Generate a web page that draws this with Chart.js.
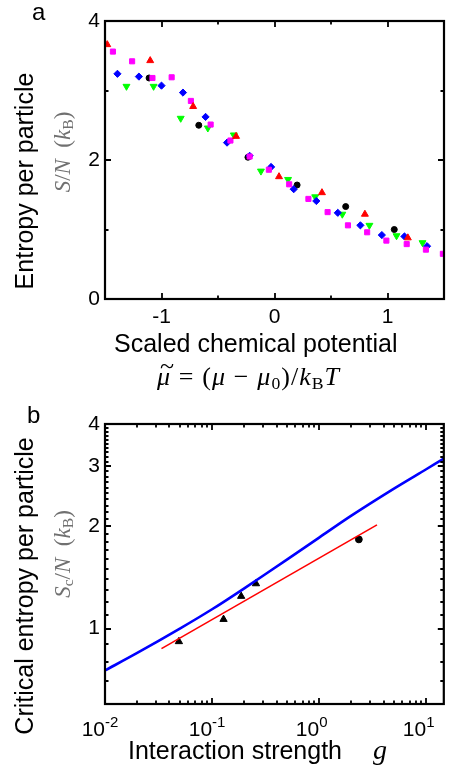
<!DOCTYPE html>
<html>
<head>
<meta charset="utf-8">
<script src="https://cdn.jsdelivr.net/npm/chart.js@4.4.0/dist/chart.umd.min.js"></script>
<style>
    html, body { margin: 0; padding: 0; background: #fff; }
    body { width: 449px; height: 765px; position: relative; overflow: hidden; font-family: "Liberation Sans", Arial, sans-serif; }
    canvas { position: absolute; left: 0; }
    .lbl { position: absolute; white-space: nowrap; color: #000; line-height: 1; }
    .rot { transform: translate(-50%, -50%) rotate(-90deg); }
    .math { font-family: "Liberation Serif", "DejaVu Serif", serif; }
    .math i { font-style: italic; }
    .math sub { font-size: 68%; vertical-align: -0.25em; line-height: 0; font-style: normal; }
    .gray { color: #707070; }
    .sp { display: inline-block; width: 0.3em; }
    .tilde { position: relative; display: inline-block; }
    .tilde b { position: absolute; left: 0.12em; top: -0.42em; font-weight: normal; font-style: normal; }
</style>
</head>
<body>
<canvas id="chartA" width="449" height="345" style="top:0px"></canvas>
<canvas id="chartB" width="449" height="370" style="top:395px"></canvas>

<div class="lbl" style="left:32px; top:0px; font-size:24px;">a</div>
<div class="lbl rot" style="left:24px; top:181px; font-size:25px;">Entropy per particle</div>
<div class="lbl rot math gray" style="left:62px; top:152px; font-size:23px;"><i>S</i>/<i>N</i>&nbsp;&nbsp;(<i>k</i><sub>B</sub>)</div>
<div class="lbl" style="left:114px; top:331px; font-size:25px;">Scaled chemical potential</div>
<div class="lbl math" style="left:157px; top:364px; font-size:26px; letter-spacing:1px;"><span class="tilde"><i>μ</i><b>~</b></span><span class="sp"></span>=<span class="sp"></span>(<i>μ</i><span class="sp"></span>−<span class="sp"></span><i>μ</i><sub>0</sub>)/<i>k</i><sub>B</sub><i>T</i></div>

<div class="lbl" style="left:27px; top:403px; font-size:24px;">b</div>
<div class="lbl rot" style="left:24px; top:586px; font-size:25px;">Critical entropy per particle</div>
<div class="lbl rot math gray" style="left:62px; top:554px; font-size:23px;"><i>S</i><sub>c</sub>/<i>N</i>&nbsp;&nbsp;(<i>k</i><sub>B</sub>)</div>
<div class="lbl" style="left:128px; top:736px; font-size:25px;">Interaction strength<span class="math" style="margin-left:31px; font-size:28px;"><i>g</i></span></div>

<script>
// ---- panel a : entropy per particle vs scaled chemical potential ----
const redMu = [-1.48, -1.10, -0.72, -0.34, 0.04, 0.42, 0.80, 1.18];
const redS = [3.66, 3.43, 2.77, 2.34, 1.76, 1.53, 1.22, 0.88];

const magentaMu = [-1.43, -1.26, -1.08, -0.91, -0.74, -0.565, -0.39, -0.22, -0.05, 0.13, 0.30, 0.47, 0.65, 0.82, 0.99, 1.17, 1.34, 1.49];
const magentaS = [3.56, 3.42, 3.18, 3.19, 2.85, 2.51, 2.28, 2.05, 1.86, 1.65, 1.44, 1.25, 1.06, 0.96, 0.84, 0.79, 0.71, 0.65];

const blueMu = [-1.39, -1.20, -1.00, -0.81, -0.61, -0.42, -0.22, -0.03, 0.17, 0.37, 0.56, 0.76, 0.95, 1.15, 1.35];
const blueS = [3.24, 3.20, 3.07, 2.97, 2.62, 2.25, 2.06, 1.90, 1.58, 1.41, 1.24, 1.06, 0.92, 0.90, 0.76];

const greenMu = [-1.31, -1.07, -0.83, -0.59, -0.36, -0.12, 0.12, 0.36, 0.60, 0.84, 1.08, 1.31];
const greenS = [3.06, 3.06, 2.60, 2.46, 2.36, 1.84, 1.72, 1.47, 1.22, 1.06, 0.91, 0.81];

const blackMu = [-1.11, -0.67, -0.235, 0.20, 0.63, 1.06];
const blackS = [3.18, 2.50, 2.04, 1.64, 1.33, 1.00];

const xTicksA = [-1, -0.5, 0, 0.5, 1];
const xLabelsA = [-1, 0, 1];
const yTicksA = [0, 1, 2, 3, 4];
const yLabelsA = [0, 2, 4];

// ---- panel b : critical entropy vs interaction strength ----
const gTheory = [0.01, 0.02, 0.05, 0.1, 0.2, 0.5, 1, 2, 5, 10, 14.6];
const sTheory = [0.753, 0.848, 1.000, 1.140, 1.314, 1.596, 1.853, 2.150, 2.582, 2.944, 3.165];

const gFit = [0.0337, 3.47];
const sFit = [0.873, 2.02];

const gTriangles = [0.049, 0.128, 0.187, 0.257];
const sTriangles = [0.916, 1.065, 1.245, 1.356];

const gDot = [2.35];
const sDot = [1.83];

const xDecadesB = [0.01, 0.1, 1, 10];
const xExponentsB = ['-2', '-1', '0', '1'];
const yLabelsB = [1, 2, 3, 4];

Chart.defaults.font.family = '"Liberation Sans", Arial, sans-serif';
Chart.defaults.color = '#000';

function pts(xs, ys) {
    return xs.map((x, i) => ({ x: x, y: ys[i] }));
}

function near(list, v) {
    return list.findIndex(l => Math.abs(l - v) < 1e-6 * Math.max(1, Math.abs(l)));
}

// ticks pointing inward on all four sides + frame
function cadre(xTicks, xMajor, yTicks, yMajor) {
    return {
        id: 'cadre',
        afterDraw(chart) {
            const ctx = chart.ctx;
            const a = chart.chartArea;
            const sx = chart.scales.x;
            const sy = chart.scales.y;
            ctx.save();
            ctx.strokeStyle = '#000';
            ctx.lineWidth = 1.8;
            xTicks.forEach(v => {
                const p = Math.round(sx.getPixelForValue(v));
                const len = near(xMajor, v) >= 0 ? 6 : 3.5;
                ctx.beginPath();
                ctx.moveTo(p, a.bottom); ctx.lineTo(p, a.bottom - len);
                ctx.moveTo(p, a.top); ctx.lineTo(p, a.top + len);
                ctx.stroke();
            });
            yTicks.forEach(v => {
                const p = Math.round(sy.getPixelForValue(v));
                const len = near(yMajor, v) >= 0 ? 6 : 3.5;
                ctx.beginPath();
                ctx.moveTo(a.left, p); ctx.lineTo(a.left + len, p);
                ctx.moveTo(a.right, p); ctx.lineTo(a.right - len, p);
                ctx.stroke();
            });
            ctx.lineWidth = 2.2;
            ctx.strokeRect(a.left, a.top, a.right - a.left, a.bottom - a.top);
            ctx.restore();
        }
    };
}

// 10^n labels under the log axis
const puissances = {
    id: 'puissances',
    afterDraw(chart) {
        const ctx = chart.ctx;
        const sx = chart.scales.x;
        const y0 = chart.chartArea.bottom + 32;
        ctx.save();
        ctx.fillStyle = '#000';
        ctx.textBaseline = 'alphabetic';
        xDecadesB.forEach((d, i) => {
            const p = sx.getPixelForValue(d);
            ctx.font = '21px "Liberation Sans", Arial, sans-serif';
            ctx.textAlign = 'right';
            ctx.fillText('10', p, y0);
            ctx.font = '15px "Liberation Sans", Arial, sans-serif';
            ctx.textAlign = 'left';
            ctx.fillText(xExponentsB[i], p, y0 - 9);
        });
        ctx.restore();
    }
};

function axeX(extra, height, padding) {
    return Object.assign({
        grid: { display: false, drawTicks: false },
        border: { display: false },
        afterFit: s => { s.height = height; s.paddingLeft = 0; s.paddingRight = 0; },
        ticks: { font: { size: 21 }, padding: padding, autoSkip: false, maxRotation: 0, minRotation: 0 }
    }, extra);
}

function axeY(extra) {
    return Object.assign({
        grid: { display: false, drawTicks: false },
        border: { display: false },
        afterFit: s => { s.width = 105; },
        ticks: { font: { size: 21 }, padding: 5, autoSkip: false }
    }, extra);
}

function nuage(label, xs, ys, color, style, radius, rotation) {
    return {
        label: label,
        data: pts(xs, ys),
        pointStyle: style,
        pointRadius: radius,
        pointRotation: rotation || 0,
        backgroundColor: color,
        borderColor: color,
        borderWidth: 1
    };
}

// panel a
new Chart(document.getElementById('chartA'), {
    type: 'scatter',
    data: {
        datasets: [
            nuage('red', redMu, redS, '#ff0000', 'triangle', 4),
            nuage('magenta', magentaMu, magentaS, '#ff00ff', 'rect', 3.6),
            nuage('blue', blueMu, blueS, '#0000ff', 'rectRot', 3.6),
            nuage('green', greenMu, greenS, '#00ff00', 'triangle', 4, 180),
            nuage('black', blackMu, blackS, '#000000', 'circle', 3)
        ]
    },
    options: {
        responsive: false,
        animation: false,
        devicePixelRatio: 1,
        layout: { padding: { top: 21, right: 1, left: 0, bottom: 0 } },
        plugins: { legend: { display: false }, tooltip: { enabled: false } },
        scales: {
            x: axeX({
                type: 'linear', min: -1.5, max: 1.5,
                afterBuildTicks: s => { s.ticks = xTicksA.map(v => ({ value: v })); }
            }, 46, 6),
            y: axeY({
                type: 'linear', min: 0, max: 4,
                afterBuildTicks: s => { s.ticks = yTicksA.map(v => ({ value: v })); }
            })
        }
    },
    plugins: [cadre(xTicksA, xLabelsA, yTicksA, yLabelsA)]
});
Chart.getChart('chartA').options.scales.x.ticks.callback = v => near(xLabelsA, v) >= 0 ? String(v) : '';
Chart.getChart('chartA').options.scales.y.ticks.callback = v => near(yLabelsA, v) >= 0 ? String(v) : '';
Chart.getChart('chartA').update();

// log ticks for panel b
const xTicksB = [];
xDecadesB.forEach(d => {
    for (let m = 1; m <= 9; m++) {
        const v = Math.round(m * d * 1000) / 1000;
        if (v <= 14.6) xTicksB.push(v);
    }
});
const yTicksB = [];
for (let k = 6; k <= 40; k++) yTicksB.push(k / 10);

new Chart(document.getElementById('chartB'), {
    type: 'scatter',
    data: {
        datasets: [
            {
                label: 'theory',
                data: pts(gTheory, sTheory),
                showLine: true,
                borderColor: '#0000ff',
                borderWidth: 2.6,
                pointRadius: 0,
                tension: 0.3
            },
            {
                label: 'fit',
                data: pts(gFit, sFit),
                showLine: true,
                borderColor: '#ff0000',
                borderWidth: 1.6,
                pointRadius: 0
            },
            nuage('triangles', gTriangles, sTriangles, '#000000', 'triangle', 4.2),
            nuage('dot', gDot, sDot, '#000000', 'circle', 3.4)
        ]
    },
    options: {
        responsive: false,
        animation: false,
        devicePixelRatio: 1,
        layout: { padding: { top: 29, right: 1, left: 0, bottom: 0 } },
        plugins: { legend: { display: false }, tooltip: { enabled: false } },
        scales: {
            x: axeX({
                type: 'logarithmic', min: 0.01, max: 14.6,
                afterBuildTicks: s => { s.ticks = xTicksB.map(v => ({ value: v })); }
            }, 61, 8),
            y: axeY({
                type: 'logarithmic', min: 0.6, max: 4,
                afterBuildTicks: s => { s.ticks = yTicksB.map(v => ({ value: v })); }
            })
        }
    },
    plugins: [cadre(xTicksB, xDecadesB, yTicksB, yLabelsB), puissances]
});
Chart.getChart('chartB').options.scales.x.ticks.callback = () => '';
Chart.getChart('chartB').options.scales.y.ticks.callback = v => near(yLabelsB, v) >= 0 ? String(v) : '';
Chart.getChart('chartB').update();
</script>
</body>
</html>
